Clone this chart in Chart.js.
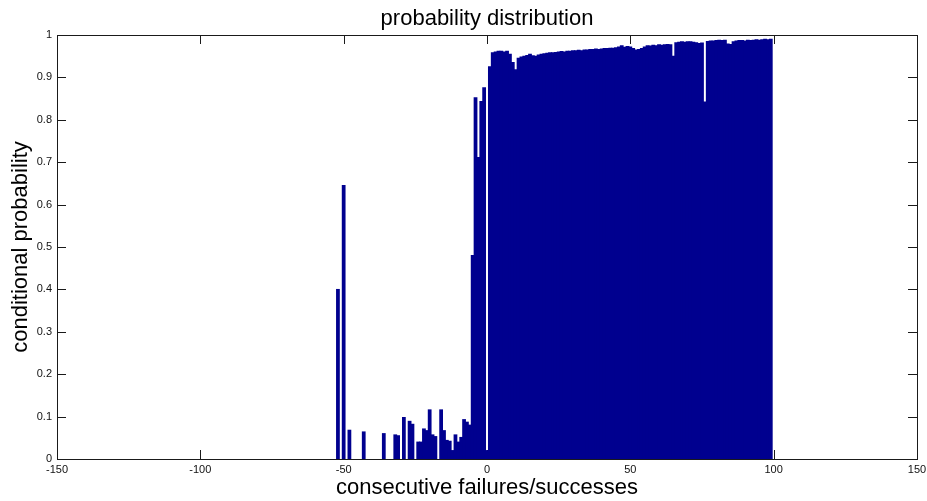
<!DOCTYPE html>
<html>
<head>
<meta charset="utf-8">
<title>probability distribution</title>
<script src="https://cdn.jsdelivr.net/npm/chart.js@4.4.1/dist/chart.umd.min.js"></script>
<style>
  html, body { margin: 0; padding: 0; background: #fff; }
  canvas { display: block; }
</style>
</head>
<body>
<canvas id="dist" width="927" height="501"></canvas>
<script>
// run length: negative = consecutive failures, positive = consecutive successes
const runLength = [
  -52, -50, -48, -43, -36, -32, -31, -29, -27, -26, -24, -23, -22, -21, -20, -19, -18,
  -16, -15, -14, -13, -12, -11, -10, -9, -8, -7, -6, -5, -4, -3, -2, -1, 0,
  1, 2, 3, 4, 5, 6, 7, 8, 9, 10, 11, 12, 13, 14, 15, 16, 17, 18, 19, 20,
  21, 22, 23, 24, 25, 26, 27, 28, 29, 30, 31, 32, 33, 34, 35, 36, 37, 38, 39, 40,
  41, 42, 43, 44, 45, 46, 47, 48, 49, 50, 51, 52, 53, 54, 55, 56, 57, 58, 59, 60,
  61, 62, 63, 64, 65, 66, 67, 68, 69, 70, 71, 72, 73, 74, 75, 76, 77, 78, 79, 80,
  81, 82, 83, 84, 85, 86, 87, 88, 89, 90, 91, 92, 93, 94, 95, 96, 97, 98, 99
];
const condProb = [
  0.40, 0.645, 0.068, 0.064, 0.060, 0.057, 0.055, 0.098, 0.089, 0.082, 0.040, 0.040, 0.071, 0.067, 0.116, 0.057, 0.053,
  0.116, 0.067, 0.044, 0.042, 0.020, 0.057, 0.040, 0.051, 0.093, 0.087, 0.080, 0.480, 0.852, 0.711, 0.843, 0.876, 0.020,
  0.925, 0.958, 0.960, 0.962, 0.962, 0.960, 0.962, 0.955, 0.935, 0.918, 0.945, 0.948, 0.950, 0.952, 0.955, 0.951, 0.950, 0.953, 0.955, 0.956,
  0.957, 0.958, 0.958, 0.959, 0.960, 0.961, 0.960, 0.962, 0.962, 0.963, 0.963, 0.964, 0.963, 0.965, 0.965, 0.966, 0.966, 0.967, 0.966, 0.967,
  0.968, 0.968, 0.969, 0.969, 0.970, 0.972, 0.975, 0.971, 0.973, 0.972, 0.968, 0.965, 0.966, 0.968, 0.972, 0.975, 0.974, 0.976, 0.975, 0.977,
  0.976, 0.977, 0.978, 0.977, 0.950, 0.982, 0.983, 0.984, 0.983, 0.984, 0.984, 0.983, 0.982, 0.980, 0.981, 0.842, 0.985, 0.986, 0.986, 0.987,
  0.988, 0.987, 0.988, 0.979, 0.978, 0.984, 0.986, 0.987, 0.987, 0.986, 0.988, 0.987, 0.988, 0.989, 0.988, 0.989, 0.990, 0.989, 0.990
];
const xTickValues = [-150, -100, -50, 0, 50, 100, 150];
const yTickValues = [0, 0.1, 0.2, 0.3, 0.4, 0.5, 0.6, 0.7, 0.8, 0.9, 1];

const FONT = '"Liberation Sans", Arial, Helvetica, sans-serif';
const AXIS_COLOR = '#1a1a1a';
const TICK_LEN = 9;

// matlab style box with inward ticks on all four sides
const boxAxes = {
  id: 'boxAxes',
  beforeDatasetsDraw(chart) {
    const { ctx, chartArea: a, scales: { x, y } } = chart;
    ctx.save();
    ctx.strokeStyle = AXIS_COLOR;
    ctx.lineWidth = 1;
    ctx.beginPath();
    xTickValues.forEach(v => {
      const px = Math.round(x.getPixelForValue(v)) + 0.5;
      ctx.moveTo(px, a.bottom); ctx.lineTo(px, a.bottom - TICK_LEN);
      ctx.moveTo(px, a.top); ctx.lineTo(px, a.top + TICK_LEN);
    });
    yTickValues.forEach(v => {
      const py = Math.round(y.getPixelForValue(v)) + 0.5;
      ctx.moveTo(a.left, py); ctx.lineTo(a.left + TICK_LEN, py);
      ctx.moveTo(a.right, py); ctx.lineTo(a.right - TICK_LEN, py);
    });
    ctx.stroke();
    ctx.restore();
  },
  afterDatasetsDraw(chart) {
    const { ctx, chartArea: a } = chart;
    ctx.save();
    ctx.strokeStyle = AXIS_COLOR;
    ctx.lineWidth = 1;
    ctx.strokeRect(Math.round(a.left) + 0.5, Math.round(a.top) + 0.5,
      Math.round(a.right - a.left), Math.round(a.bottom - a.top));
    ctx.restore();
  }
};

new Chart(document.getElementById('dist'), {
  type: 'bar',
  data: {
    datasets: [{
      data: runLength.map((r, i) => ({ x: r, y: condProb[i] })),
      backgroundColor: '#00008f',
      borderWidth: 0,
      barPercentage: 1,
      categoryPercentage: 1,
      inflateAmount: 0.45
    }]
  },
  plugins: [boxAxes],
  options: {
    responsive: false,
    animation: false,
    devicePixelRatio: 1,
    layout: { padding: { left: 0, right: 10, top: 0, bottom: 0 } },
    plugins: {
      legend: { display: false },
      tooltip: { enabled: false },
      title: {
        display: true,
        fullSize: false,
        text: 'probability distribution',
        color: '#000',
        font: { family: FONT, size: 22, weight: 'normal' },
        padding: { top: 6, bottom: 2.6 }
      }
    },
    scales: {
      x: {
        type: 'linear',
        min: -150,
        max: 150,
        offset: false,
        grid: { display: false, drawTicks: false },
        border: { display: false },
        afterBuildTicks: s => { s.ticks = xTickValues.map(v => ({ value: v })); },
        afterFit: s => { s.height = 42; s.paddingLeft = 0; s.paddingRight = 0; },
        ticks: {
          color: '#111',
          font: { family: FONT, size: 11 },
          padding: 4,
          maxRotation: 0,
          callback: v => String(v)
        },
        title: {
          display: true,
          text: 'consecutive failures/successes',
          color: '#000',
          font: { family: FONT, size: 22 },
          padding: { top: 0, bottom: 0 }
        }
      },
      y: {
        min: 0,
        max: 1,
        grid: { display: false, drawTicks: false },
        border: { display: false },
        afterBuildTicks: s => { s.ticks = yTickValues.map(v => ({ value: v })); },
        afterFit: s => { s.width = 57; },
        ticks: {
          color: '#111',
          font: { family: FONT, size: 11 },
          padding: 5,
          callback: v => String(v)
        },
        title: {
          display: true,
          text: 'conditional probability',
          color: '#000',
          font: { family: FONT, size: 22 },
          padding: { top: 8, bottom: 0 }
        }
      }
    }
  }
});
</script>
</body>
</html>
